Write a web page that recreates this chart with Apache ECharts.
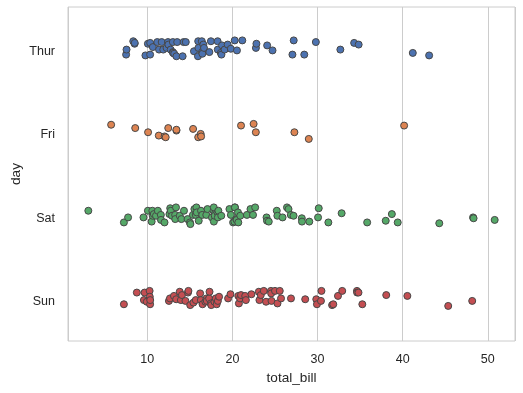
<!DOCTYPE html>
<html>
<head>
<meta charset="utf-8">
<script src="https://cdn.jsdelivr.net/npm/echarts@6/dist/echarts.min.js"></script>
<style>
html,body{margin:0;padding:0;background:#fff;}
#c{width:523px;height:393px;}
</style>
</head>
<body>
<div id="c"></div>
<script>
// Categories (top to bottom)
var days = ['Thur', 'Fri', 'Sat', 'Sun'];

// total_bill values per day (sorted) and the vertical jitter (in category units)
var thurBills = [7.51,7.56,8.35,8.51,8.52,9.78,10.07,10.33,10.34,10.65,11.17,11.38,11.69,11.87,12.26,12.43,12.48,12.74,13.00,13.00,13.03,13.16,13.42,13.51,14.15,14.26,14.52,15.48,15.95,15.98,16.00,16.40,16.43,16.47,16.58,16.66,17.29,17.47,18.26,18.28,18.64,18.71,18.78,19.08,19.44,19.81,20.27,20.53,21.16,22.76,22.82,24.08,24.71,27.05,27.20,28.44,29.80,32.68,34.30,34.83,41.19,43.11];
var thurJitter = [0.07,0.01,-0.09,-0.06,-0.07,0.08,-0.06,0.07,-0.07,-0.02,-0.08,0.01,-0.08,0.01,-0.01,-0.08,-0.05,0.01,-0.08,0.04,0.05,0.06,0.09,-0.08,0.09,-0.08,-0.08,0.03,0.09,-0.09,-0.01,-0.09,0.04,0.06,-0.05,-0.01,0.04,-0.09,-0.09,0.01,0.05,0.07,-0.04,0.01,-0.05,0.00,-0.10,0.02,-0.10,-0.01,-0.06,-0.04,0.02,0.07,-0.10,0.07,-0.08,0.01,-0.07,-0.05,0.05,0.08];

var friBills = [5.75,8.58,10.09,11.35,12.03,12.16,12.46,13.42,13.42,15.38,15.98,16.27,16.32,21.01,22.49,22.75,27.28,28.97,40.17];
var friJitter = [-0.09,-0.05,0.00,0.04,0.05,0.06,-0.05,-0.02,-0.03,-0.04,0.06,0.02,0.05,-0.08,-0.10,0.00,0.00,0.08,-0.08];

var satBills = [3.07,7.25,7.74,9.55,10.07,10.51,10.59,10.63,10.77,11.02,11.24,11.59,11.61,12.02,12.60,12.69,12.76,12.90,13.27,13.28,13.37,13.81,14.00,14.31,14.73,15.01,15.06,15.36,15.53,15.69,15.77,15.81,16.04,16.31,16.45,16.93,17.07,17.59,17.78,17.81,17.82,17.92,17.92,18.24,18.29,18.35,18.69,19.65,19.82,20.08,20.23,20.29,20.29,20.45,20.49,20.65,20.69,20.92,21.70,22.12,22.42,22.67,24.01,24.06,24.27,25.21,25.28,25.89,26.41,26.59,26.86,27.18,28.15,28.17,29.03,30.06,30.14,31.27,32.83,35.83,38.01,38.73,39.42,44.30,48.27,48.33,50.81];
var satJitter = [-0.06,0.08,0.02,0.02,-0.06,0.07,-0.06,0.00,-0.02,0.00,-0.06,-0.01,0.05,0.08,-0.02,-0.09,-0.06,0.00,-0.01,0.04,-0.10,0.00,0.04,-0.06,0.04,0.08,0.10,-0.01,-0.08,-0.01,-0.10,-0.04,0.06,-0.06,-0.01,-0.01,-0.08,0.02,-0.06,-0.10,0.07,-0.02,0.00,-0.04,0.02,-0.06,0.00,-0.08,-0.01,0.08,0.07,-0.10,-0.10,0.04,0.05,-0.04,0.08,0.00,-0.01,-0.08,-0.01,-0.10,0.02,0.06,0.07,-0.06,0.00,0.02,-0.10,-0.08,-0.01,0.00,0.03,0.07,0.07,0.02,-0.09,0.08,-0.03,0.08,0.06,-0.02,0.08,0.09,0.02,0.03,0.05];

var sunBills = [7.25,8.77,9.60,9.68,9.94,10.27,10.29,10.33,10.34,12.54,12.66,13.13,13.39,13.81,13.94,14.07,14.48,14.78,14.83,15.04,15.42,15.69,16.21,16.29,16.49,16.82,16.97,16.99,17.26,17.31,17.46,17.51,17.89,18.04,18.15,18.29,18.43,19.49,19.77,20.69,20.76,20.90,21.01,21.50,21.58,22.23,23.10,23.17,23.33,23.68,23.95,24.52,24.55,24.59,25.00,25.29,25.56,25.71,26.88,28.55,29.85,29.93,30.40,30.46,31.71,31.85,32.40,32.90,34.63,34.65,34.81,35.26,38.07,40.55,45.35,48.17];
var sunJitter = [0.06,-0.08,0.01,-0.08,0.03,-0.10,-0.03,0.06,0.01,0.02,-0.01,-0.04,0.00,-0.09,0.01,-0.05,0.02,-0.08,-0.10,0.07,0.04,0.01,-0.07,0.01,0.06,0.03,-0.01,0.02,-0.01,-0.09,0.05,0.07,0.03,-0.01,0.06,0.02,-0.03,-0.01,-0.06,-0.04,0.05,-0.01,-0.05,-0.04,0.01,-0.06,-0.09,0.01,-0.05,-0.10,0.03,-0.10,-0.07,0.02,-0.10,0.05,-0.10,-0.01,-0.01,0.00,0.00,0.06,0.02,-0.10,0.07,0.06,-0.04,-0.10,-0.10,-0.08,-0.08,0.06,-0.05,-0.04,0.08,0.02];

var colors = ['#4C72B0', '#DD8452', '#55A868', '#C44E52'];
var billsByDay = [thurBills, friBills, satBills, sunBills];
var jitterByDay = [thurJitter, friJitter, satJitter, sunJitter];

function points(d) {
  return billsByDay[d].map(function (v, i) { return [v, d + jitterByDay[d][i]]; });
}

var font = 'Liberation Sans, Arial, sans-serif';
var chart = echarts.init(document.getElementById('c'), null, {renderer: 'canvas'});
chart.setOption({
  animation: false,
  backgroundColor: '#ffffff',
  grid: {left: 68, top: 7, right: 8, bottom: 52, show: true, borderColor: '#cccccc', borderWidth: 1, containLabel: false, outerBoundsMode: 'none'},
  xAxis: {
    type: 'value', min: 0.683, max: 53.197, splitNumber: 5,
    name: 'total_bill', nameLocation: 'middle', nameGap: 30,
    nameTextStyle: {color: '#262626', fontSize: 13.6, fontFamily: font},
    axisLine: {show: false}, axisTick: {show: false},
    axisLabel: {color: '#262626', fontSize: 12.5, fontFamily: font, margin: 12, showMinLabel: false, showMaxLabel: false},
    splitLine: {show: true, lineStyle: {color: '#cccccc', width: 1}}
  },
  yAxis: [{
    type: 'category', data: days, inverse: true, boundaryGap: true,
    name: 'day', nameLocation: 'middle', nameGap: 45, nameMoveOverlap: false,
    nameTextStyle: {color: '#262626', fontSize: 13.6, fontFamily: font},
    axisLine: {show: false}, axisTick: {show: false}, splitLine: {show: false},
    axisLabel: {
      margin: 13,
      formatter: function (v) { return '{d|' + v + '}'; },
      rich: {d: {color: '#262626', fontSize: 12.5, fontFamily: font, padding: [5, 0, 0, 0]}}
    }
  }, {
    type: 'value', min: -0.5, max: 3.5, inverse: true, show: false,
    splitLine: {show: false}
  }],
  series: days.map(function (d, i) {
    return {
      type: 'scatter', name: d, yAxisIndex: 1,
      data: points(i),
      symbol: 'circle', symbolSize: 7,
      itemStyle: {color: colors[i], borderColor: '#474747', borderWidth: 1, opacity: 1}
    };
  })
});
</script>
</body>
</html>
